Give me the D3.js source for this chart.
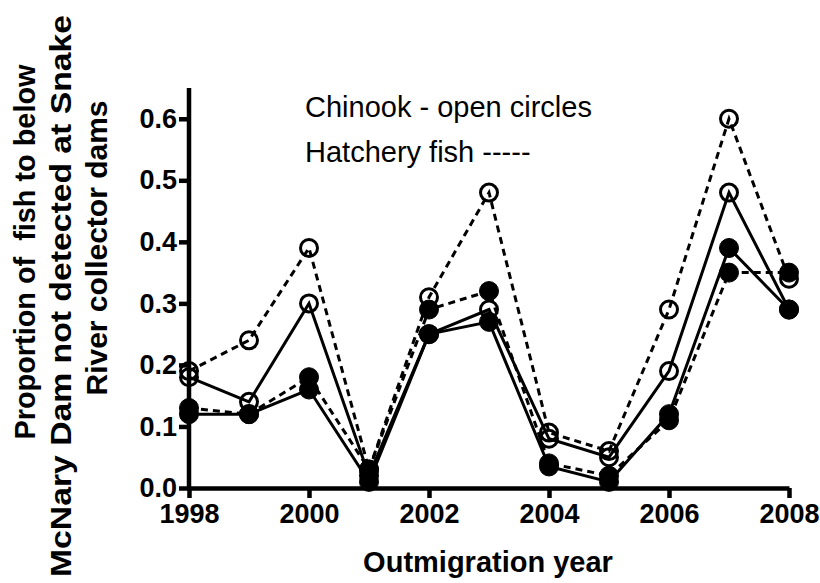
<!DOCTYPE html>
<html><head><meta charset="utf-8">
<script src="https://cdn.jsdelivr.net/npm/d3@7"></script>
<style>body{margin:0;background:#fff}svg{display:block}text{font-family:Arial,"Liberation Sans",sans-serif}</style>
</head><body>
<script>
const years = [1998,1999,2000,2001,2002,2003,2004,2005,2006,2007,2008];
const chinookHatchery   = [0.19,0.24,0.39,0.03,0.31,0.48,0.09,0.06,0.29,0.60,0.34];
const chinookWild       = [0.18,0.14,0.30,0.02,0.25,0.29,0.08,0.05,0.19,0.48,0.29];
const steelheadHatchery = [0.13,0.12,0.18,0.03,0.29,0.32,0.04,0.02,0.11,0.35,0.35];
const steelheadWild     = [0.12,0.12,0.16,0.01,0.25,0.27,0.035,0.01,0.12,0.39,0.29];
const xTicks = [1998,2000,2002,2004,2006,2008];
const yTicks = [0,0.1,0.2,0.3,0.4,0.5,0.6];
const legendLines = ["Chinook - open circles","Hatchery fish -----"];
const yTitle = ["Proportion of  fish to below","McNary Dam not detected at Snake","River collector dams"];
const xTitle = "Outmigration year";

const W=820,H=583;
const svg=d3.select("body").append("svg").attr("width",W).attr("height",H);
const x=d3.scaleLinear().domain([1998,2008]).range([189,789]);
const y=d3.scaleLinear().domain([0,0.65]).range([488,88]);

const series=[
 {v:chinookHatchery,dash:"7,5",filled:false},
 {v:steelheadHatchery,dash:"7,5",filled:true},
 {v:chinookWild,dash:null,filled:false},
 {v:steelheadWild,dash:null,filled:true}
];
const line=d3.line().x((d,i)=>x(years[i])).y(d=>y(d));
series.forEach(s=>{
  svg.append("path").attr("d",line(s.v)).attr("fill","none").attr("stroke","#000")
    .attr("stroke-width",3).attr("stroke-dasharray",s.dash);
});
series.forEach(s=>{
  svg.append("g").selectAll("circle").data(s.v).join("circle")
    .attr("cx",(d,i)=>x(years[i])).attr("cy",d=>y(d))
    .attr("r",s.filled?9.5:8.5)
    .attr("fill",s.filled?"#000":"none").attr("stroke","#000").attr("stroke-width",s.filled?1:3);
});

const xa=svg.append("g").attr("transform",`translate(0,${y(0)})`)
  .call(d3.axisBottom(x).tickValues(xTicks).tickFormat(d3.format("d")).tickSize(10).tickSizeOuter(0));
const ya=svg.append("g").attr("transform",`translate(${x(1998)},0)`)
  .call(d3.axisLeft(y).tickValues(yTicks).tickFormat(d3.format(".1f")).tickSize(10).tickSizeOuter(0));
[xa,ya].forEach(a=>{
  a.select(".domain").attr("stroke","#000").attr("stroke-width",4.5);
  a.selectAll(".tick line").attr("stroke","#000").attr("stroke-width",4.5);
  a.selectAll(".tick text").attr("fill","#000").attr("font-size",27).attr("font-weight","bold")
   .attr("font-family","Arial,'Liberation Sans',sans-serif");
});
ya.select(".domain").attr("d",`M0,${y(0)}V${y(0.65)}`);
xa.selectAll(".tick text").attr("dy","0.8em");
ya.selectAll(".tick text").attr("x",-12);

svg.append("g").selectAll("text").data(legendLines).join("text")
  .attr("x",305).attr("y",(d,i)=>117+i*45).attr("font-size",29).text(d=>d);

svg.append("text").attr("x",488).attr("y",572).attr("text-anchor","middle")
  .attr("font-size",29).attr("font-weight","bold").text(xTitle);

const yTitleCenter=[252,296,248], yTitleLen=[375,562,295];
svg.append("g").selectAll("text").data(yTitle).join("text")
  .attr("transform",(d,i)=>`translate(${35+i*36},${yTitleCenter[i]}) rotate(-90)`)
  .attr("text-anchor","middle").attr("font-size",30).attr("font-weight","bold")
  .attr("textLength",(d,i)=>yTitleLen[i]).attr("lengthAdjust","spacingAndGlyphs")
  .style("white-space","pre").text(d=>d);
</script>
</body></html>
